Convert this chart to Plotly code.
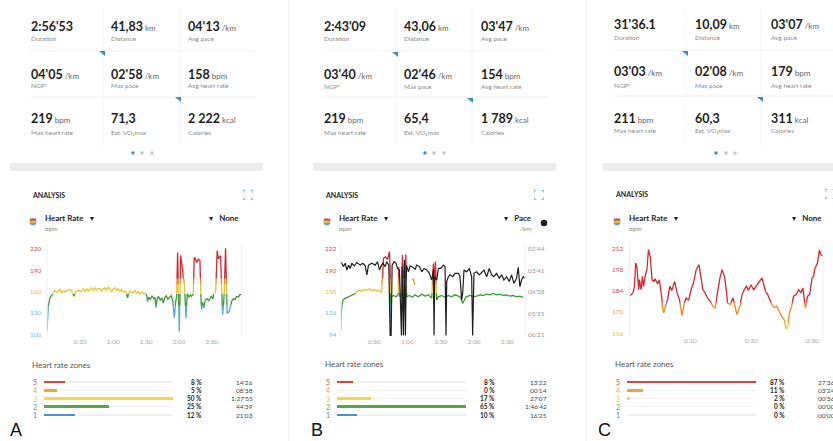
import plotly.graph_objects as go

W, H = 833, 441
FONT = "Lato, 'Open Sans', sans-serif"


def X(p):
    return p / W


def Y(p):
    return 1 - p / H


# ------------------------------------------------------------------ data
stat_labels = ["Duration", "Distance", "Avg pace", "NGP*", "Max pace", "Avg heart rate",
               "Max heart rate", "Est. VO₂max", "Calories"]
stat_units = ["", "km", "/km", "/km", "/km", "bpm", "bpm", "", "kcal"]
stats_A = ["2:56'53", "41,83", "04'13", "04'05", "02'58", "158", "219", "71,3", "2 222"]
stats_B = ["2:43'09", "43,06", "03'47", "03'40", "02'46", "154", "219", "65,4", "1 789"]
stats_C = ["31'36.1", "10,09", "03'07", "03'03", "02'08", "179", "211", "60,3", "311"]

zones = [5, 4, 3, 2, 1]
zone_pct_A = [8, 5, 50, 25, 12]
zone_time_A = ["14'26", "08'38", "1:27'55", "44'39", "21'03"]
zone_pct_B = [8, 0, 17, 65, 10]
zone_time_B = ["13'22", "00'14", "27'07", "1:46'42", "16'25"]
zone_pct_C = [87, 11, 2, 0, 0]
zone_time_C = ["27'36", "03'24", "00'36", "00'00", "00'00"]

hr_ticks_A = [100, 130, 160, 190, 220]
hr_ticks_B = [94, 126, 158, 190, 222]
hr_ticks_C = [156, 170, 184, 198, 212]
pace_ticks_B = [164, 221, 278, 335, 391]
pace_ticklabels_B = ["02'44", "03'41", "04'38", "05'35", "06'31"]
time_ticks_AB = [30, 60, 90, 120, 150]
time_ticklabels_AB = ["0:30", "1:00", "1:30", "2:00", "2:30"]
time_ticks_C = [10, 20, 30]
time_ticklabels_C = ["0:10", "0:20", "0:30"]

# heart rate A (minutes, bpm)
t_A = [0, 0.8, 1.2, 2.7, 5.2, 7.3, 8.8, 10.3, 11.8, 13.3, 14.8, 16.4, 17.9, 19.7, 21.5, 23.2,
       24.5, 25.8, 27, 28.7, 30, 31.5, 33.3, 34.7, 36.1, 37.6, 39.1, 40.6, 42.1, 43.6, 45,
       46.7, 48.2, 49.8, 51.2, 52.7, 54.2, 55.8, 57.3, 58.8, 60.3, 61.8, 63.3, 64.8, 66.4,
       67.9, 69.4, 70.9, 72.2, 73.3, 74.4, 75.5, 77, 78.5, 80, 81.5, 83, 84.5, 86, 87.5, 89,
       90.6, 91.5, 92.5, 94, 95.5, 97, 98.1, 99.1, 100.2, 101.5, 103, 104.5, 105.8, 107,
       108.5, 110, 111.5, 113, 114.5, 115.8, 117, 117.9, 118.8, 119.3, 119.7, 120.3, 121,
       121.5, 123.3, 124.5, 125.5, 126.4, 127.6, 129, 130.5, 131.5, 133, 133.9, 135, 136,
       137.6, 138.5, 139.1, 140, 140.6, 141.5, 142.7, 144, 145.5, 147, 148.2, 149.5, 151,
       152.7, 153.5, 154.8, 155.8, 156.7, 157.9, 159.1, 159.7, 160.5, 161.2, 162.4, 163.3,
       163.9, 165, 165.7, 167, 167.9, 169.5, 171, 172.4, 174, 175.5, 176.5]
hr_A = [104, 125, 139, 151, 155.7, 161.4, 159, 160.5, 163, 158.1, 161, 159.5, 161.4, 163,
        162.9, 158, 153.3, 159, 160.5, 162, 159.5, 161.4, 163.5, 160, 163.8, 161, 162.9, 165,
        161.5, 165.2, 162, 164.5, 163.8, 160.5, 164, 165.2, 162, 166, 162.9, 160, 164, 165.2,
        162, 163.8, 160.5, 162.9, 159, 160.5, 158, 151, 158, 160.5, 158, 159, 161.5, 157.5,
        160, 156.5, 159, 157, 158, 155, 146, 152, 149, 154, 150, 152, 137, 150, 153, 148,
        151, 143.8, 151, 154, 149, 152, 154, 146, 122.3, 145, 153.3, 215.2, 160, 148.6,
        103.3, 150, 211, 191.4, 177.1, 153.3, 122.3, 158.1, 152, 155, 153.3, 156, 208.1, 206,
        201, 205.7, 204, 203.3, 153.3, 134.3, 145, 136.7, 148, 150, 147, 151, 153, 149, 155,
        162, 217.6, 206, 208.1, 210.5, 153.3, 127.1, 140, 158.1, 221, 148.6, 129.5, 130,
        131.9, 140, 146.2, 150, 148.6, 153, 152, 155.7, 156]

# heart rate B (minutes, bpm)
t_B = [0, 0.6, 1.8, 3.9, 6.9, 9.9, 12.9, 14.4, 16.5, 18.9, 21, 23.4, 25.8, 27.9, 30, 32.4,
       34.8, 36.6, 37.5, 38.4, 40.2, 42, 43.8, 44.4, 45, 45.6, 47.4, 49.8, 51.6, 52.2, 53.1,
       54.6, 55.5, 56.4, 57.3, 57.9, 58.5, 59.4, 61.8, 64.2, 66.9, 69.9, 72.9, 75.9, 78.9,
       81.9, 83.4, 84.3, 85.2, 86.4, 87.9, 90.9, 93.9, 96.9, 99.9, 102.9, 105.9, 108, 109.8,
       111, 112.8, 116.4, 119.4, 122.4, 125.4, 128.4, 131.4, 134.4, 137.4, 140.4, 143.4,
       146.4, 149.4, 152.4, 155.4, 158.4, 161.4, 164.4]
hr_B = [100, 130, 145, 148, 150, 152, 155, 158, 160, 158.5, 161, 160, 162, 159, 161, 158.5,
        160, 156, 175, 208, 210, 206, 218, 190, 110, 150, 152, 150, 153, 195, 150, 152, 213,
        150, 200, 125, 214, 150, 152, 149, 153, 150, 154, 151, 153, 148, 200, 170, 203, 145,
        150, 152, 149, 152, 150, 153, 151, 149, 140, 145, 150, 152, 150, 151, 153, 152, 154,
        153, 155, 153, 154, 152, 153, 151, 152, 150, 151, 149]

# pace B (minutes, seconds per km)
t_pace_B = [0, 2.4, 3.9, 5.4, 6.9, 8.4, 9.9, 12, 14.4, 17.4, 19.8, 21.9, 23.4, 24.9, 27.9,
            30.9, 33, 34.8, 36, 37.8, 39.9, 41.4, 43.2, 44.4, 45.3, 46.2, 48, 49.8, 51, 52.8,
            54.6, 55.2, 56.4, 57.3, 58.2, 59.1, 60.9, 62.4, 64.8, 66.9, 68.4, 70.8, 72.9, 75,
            77.4, 79.8, 81.9, 83.4, 84, 84.6, 86.4, 87.9, 90, 92.4, 93.9, 94.8, 95.4, 96.9,
            98.4, 100.8, 102.9, 105.9, 107.4, 108.9, 109.8, 111, 113.4, 115.8, 117.9, 118.8,
            120, 122.4, 124.8, 126.9, 129, 131.4, 133.8, 135.9, 138, 140.4, 142.8, 144.9, 147,
            149.4, 151.8, 153.9, 156, 158.4, 159.9, 161.4, 162.9, 164.4, 165.9]
pace_B = [198, 211, 202, 220, 207, 216, 202, 209, 200, 207, 202, 209, 233, 207, 202, 207,
          198, 220, 211, 202, 211, 198, 207, 395, 395, 207, 198, 202, 216, 220, 395, 211, 395,
          193, 395, 207, 225, 209, 213, 218, 207, 211, 225, 216, 220, 229, 247, 220, 395, 238,
          247, 216, 216, 207, 211, 395, 251, 238, 233, 238, 229, 229, 238, 300, 282, 220, 225,
          216, 238, 395, 229, 225, 233, 227, 220, 238, 216, 233, 238, 229, 242, 233, 247, 238,
          251, 233, 256, 242, 213, 265, 247, 238, 242]

# heart rate C (minutes, bpm)
t_C = [0.1, 0.55, 0.8, 1.0, 1.2, 1.5, 1.6, 1.9, 2.1, 2.3, 2.6, 2.85, 3.1, 3.4, 3.7, 3.95, 4.2,
       4.6, 4.9, 5.3, 5.6, 5.9, 6.25, 6.6, 6.95, 7.4, 7.8, 8.2, 8.6, 9.0, 9.3, 9.7, 10.1, 10.5,
       10.95, 11.4, 11.7, 12.05, 12.4, 12.8, 13.25, 13.7, 14.1, 14.45, 14.8, 15.2, 15.6, 15.9,
       16.1, 16.55, 17.0, 17.4, 17.65, 18.1, 18.5, 18.85, 19.2, 19.55, 19.95, 20.4, 20.8,
       21.2, 21.75, 22.0, 22.35, 22.7, 23.0, 23.4, 23.8, 24.2, 24.55, 25.0, 25.4, 25.75, 26.0,
       26.3, 26.7, 26.95, 27.4, 27.8, 28.15, 28.5, 28.9, 29.25, 29.6, 30.0, 30.25, 30.5, 30.9,
       31.2, 31.45, 31.8]
hr_C = [180.6, 182.4, 186.7, 202.1, 199.5, 184.5, 191.1, 184.5, 193.3, 186.7, 194.4, 197.7,
        210.9, 206.1, 191.1, 190.0, 191.6, 188.5, 191.1, 175.8, 169.2, 173.6, 178.0, 186.7,
        184.1, 190.0, 182.4, 178.0, 167.4, 175.8, 179.1, 177.5, 184.5, 188.9, 197.7, 201.0,
        193.3, 184.5, 182.4, 179.1, 176.9, 173.6, 172.5, 182.4, 191.1, 197.7, 193.3, 184.5,
        175.8, 174.7, 179.1, 172.5, 168.1, 173.6, 181.3, 184.5, 186.7, 184.1, 187.8, 184.5,
        186.7, 188.9, 192.2, 188.9, 183.5, 181.3, 178.0, 174.7, 172.5, 173.6, 170.3, 167.0,
        164.8, 158.6, 160.4, 169.2, 174.7, 180.2, 181.3, 184.5, 182.4, 185.6, 172.5, 180.2,
        181.3, 192.2, 193.3, 198.8, 202.1, 210.5, 207.6, 207.0]

# ------------------------------------------------------------------ styles
C_RED, C_ORA, C_YEL, C_GRN, C_BLU = "#d8262c", "#ef8a1f", "#f2c02a", "#3f9a38", "#5aa7de"
zone_colors = ["#e6403b", "#f2a23c", "#f6d54c", "#55a845", "#4b8fd8"]
zone_label_colors = ["#e6403b", "#f2a23c", "#f0c63c", "#55a845", "#4b8fd8"]

layout = dict(width=W, height=H, margin=dict(l=0, r=0, t=0, b=0, pad=0),
              paper_bgcolor="white", plot_bgcolor="rgba(0,0,0,0)", showlegend=False,
              font=dict(family=FONT, color="#222"), bargap=0, barmode="overlay")
annotations, shapes, traces = [], [], []
counters = {"x": 0, "y": 0}


def new_axis(letter, **kw):
    counters[letter] += 1
    n = counters[letter]
    suf = "" if n == 1 else str(n)
    layout[f"{letter}axis{suf}"] = kw
    return letter + suf, f"{letter}axis{suf}"


def txt(x, y, s, size=8, color="#222", xanchor="left", yanchor="middle", family=FONT):
    annotations.append(dict(x=X(x), y=Y(y), xref="paper", yref="paper", text=s, showarrow=False,
                            xanchor=xanchor, yanchor=yanchor, borderpad=0,
                            font=dict(size=size, color=color, family=family)))


def line(x0, y0, x1, y1, color="#eeeeee", width=1):
    shapes.append(dict(type="line", xref="paper", yref="paper", x0=X(x0), y0=Y(y0), x1=X(x1),
                       y1=Y(y1), line=dict(color=color, width=width)))


def rect(x0, y0, x1, y1, color):
    shapes.append(dict(type="rect", xref="paper", yref="paper", x0=X(x0), y0=Y(y0), x1=X(x1),
                       y1=Y(y1), fillcolor=color, line=dict(width=0)))


def circle(cx, cy, r, color):
    shapes.append(dict(type="circle", xref="paper", yref="paper", x0=X(cx - r), y0=Y(cy + r),
                       x1=X(cx + r), y1=Y(cy - r), fillcolor=color, line=dict(width=0)))


def path(pts, color, fill=True, width=1):
    d = "M " + " L ".join(f"{X(a)},{Y(b)}" for a, b in pts)
    if fill:
        d += " Z"
    shapes.append(dict(type="path", xref="paper", yref="paper", path=d,
                       fillcolor=color if fill else None,
                       line=dict(width=0 if fill else width, color=color)))


# ------------------------------------------------------------------ panel pieces
def stats_grid(values, cols, rows, lrows, hl, vl, tris, dots):
    for i, v in enumerate(values):
        c, r = i % 3, i // 3
        u = stat_units[i]
        s = f"<b>{v}</b>" + (f"<span style='font-size:8px;color:#666'>&nbsp;{u}</span>" if u else "")
        txt(cols[c], rows[r], s, size=12.5, color="#1e1e1e")
        txt(cols[c], lrows[r], stat_labels[i], size=6.5, color="#8a8a8a")
    for (a, b, y) in hl:
        line(a, y, b, y, "#f0f0f0")
    for (x, a, b) in vl:
        line(x, a, x, b, "#f3f3f3")
    for (x, y) in tris:
        path([(x - 5, y), (x + 1, y), (x + 1, y + 5)], "#3a8dc8")
    for k, (x, y) in enumerate(dots):
        circle(x, y, 1.8, "#4a90d0" if k == 0 else "#c8c8c8")


def analysis_header(ax, ay, ex, ey, ix, iy, hx, hy, right_x, right_text, right_unit=None, dot=None):
    txt(ax, ay, "<b>ANALYSIS</b>", size=7, color="#222")
    s = 4.5
    c = "#8ab8dc"
    for sx, sy in [(-1, -1), (1, -1), (-1, 1), (1, 1)]:
        path([(ex + sx * s, ey + sy * (s - 2)), (ex + sx * s, ey + sy * s),
              (ex + sx * (s - 2), ey + sy * s)], c, fill=False, width=1)
    # multi-colour heart-rate icon
    circle(ix, iy, 3.4, "#5aa7de")
    rect(ix - 3.2, iy - 3.4, ix + 3.2, iy - 1.2, "#e04a3a")
    rect(ix - 3.4, iy - 1.2, ix + 3.4, iy + 0.8, "#f2c02a")
    txt(hx, hy, "<b>Heart Rate</b>&nbsp;&nbsp;&nbsp;▾", size=8, color="#222")
    txt(hx, hy + 10, "bpm", size=6.5, color="#8a8a8a")
    txt(right_x, hy, f"▾&nbsp;&nbsp;&nbsp;<b>{right_text}</b>", size=8, color="#222",
        xanchor="right")
    if right_unit:
        txt(right_x, hy + 10, right_unit, size=6.5, color="#8a8a8a", xanchor="right")
    if dot:
        circle(dot[0], dot[1], 3.3, "#1e1e1e")


def hr_chart(t, bpm, ticks, tick_cols, bands, x_dom, t_rng, tick_px, dom_px, lab_x,
             xt, xtl):
    v_bot, v_top = ticks[0], ticks[-1]
    p_top, p_bot = tick_px
    k = (v_top - v_bot) / (p_bot - p_top)

    def v2p(v):
        return p_bot - (v - v_bot) / k

    d_top, d_bot = dom_px
    r_hi = v_bot + (p_bot - d_top) * k
    r_lo = v_bot - (d_bot - p_bot) * k
    xid, xkey = new_axis("x", domain=[X(x_dom[0]), X(x_dom[1])], range=list(t_rng),
                         showgrid=False, zeroline=False, showline=False, ticks="",
                         tickvals=xt, ticktext=xtl,
                         tickfont=dict(size=6.5, color="#a8a8a8", family=FONT),
                         fixedrange=True)
    first = True
    for lo, hi, col in bands:
        lo, hi = max(lo, r_lo), min(hi, r_hi)
        if hi <= lo:
            continue
        yid, ykey = new_axis("y", domain=[Y(v2p(lo)), Y(v2p(hi))], range=[lo, hi],
                             visible=False, anchor=xid, fixedrange=True)
        if first:
            layout[xkey]["anchor"] = yid
            first = False
        traces.append(go.Scatter(x=t, y=bpm, xaxis=xid, yaxis=yid, mode="lines",
                                 line=dict(color=col, width=1.3), hoverinfo="skip"))
    for v, c in zip(ticks, tick_cols):
        txt(lab_x, v2p(v), str(v), size=6.5, color=c, xanchor="right")
    line(x_dom[0], d_top, x_dom[0], d_bot, "#efefef")
    line(x_dom[1], d_top, x_dom[1], d_bot, "#efefef")
    return xid, (d_top, d_bot)


def zone_block(pcts, times, title_xy, lab_x, track, row5, step, pct_x, time_x, time_anchor):
    txt(title_xy[0], title_xy[1], "Heart rate zones", size=8, color="#555")
    maxp = max(pcts)
    xid, xkey = new_axis("x", domain=[X(track[0]), X(track[1])], range=[0, maxp],
                         visible=False, fixedrange=True)
    top = row5 - step / 2
    bot = row5 + 4 * step + step / 2
    yid, ykey = new_axis("y", domain=[Y(bot), Y(top)], range=[0.5, 5.5], visible=False,
                         anchor=xid, fixedrange=True)
    layout[xkey]["anchor"] = yid
    traces.append(go.Bar(x=[maxp] * 5, y=zones, orientation="h", width=0.14,
                         marker=dict(color="#efefef", line=dict(width=0)),
                         xaxis=xid, yaxis=yid, hoverinfo="skip"))
    traces.append(go.Bar(x=pcts, y=zones, orientation="h", width=0.34,
                         marker=dict(color=zone_colors, line=dict(width=0)),
                         xaxis=xid, yaxis=yid, hoverinfo="skip"))
    for i, z in enumerate(zones):
        yy = row5 + i * step
        txt(lab_x, yy, str(z), size=7, color=zone_label_colors[i])
        txt(pct_x, yy, f"<b>{pcts[i]} %</b>", size=6.5, color="#222", xanchor="right")
        txt(time_x, yy, times[i], size=6.5, color="#444", xanchor=time_anchor)


# ------------------------------------------------------------------ build panels
line(289, 0, 289, 441, "#e9e9e9")
line(586, 0, 586, 441, "#e9e9e9")
rect(10, 163, 263, 171, "#ececec")
rect(313, 163, 556, 171, "#ececec")
rect(603, 163, 833, 171, "#ececec")

LETTER_FONT = "Liberation Sans, Arial, sans-serif"

# Panel A
stats_grid(stats_A, [30, 110, 187], [27, 74, 119], [39, 85, 132],
           [(30, 255, 51), (30, 255, 97)], [(103, 8, 145), (180, 8, 145)],
           [(104, 51), (180, 97)], [(133, 153), (142, 153), (152, 153)])
analysis_header(31, 195, 248, 195, 33, 222, 44, 218, 240, "None")
bands_A = [(-1e9, 140, C_BLU), (140, 157, C_GRN), (157, 170, C_YEL), (170, 178, C_ORA),
           (178, 1e9, C_RED)]
hr_chart(t_A, hr_A, hr_ticks_A, ["#7ab6e4", "#7ab6e4", "#efb73a", "#d94a4a", "#d94a4a"],
         bands_A, (47, 241.6), (0, 177), (249, 334), (244, 336), 43,
         time_ticks_AB, time_ticklabels_AB)
zone_block(zone_pct_A, zone_time_A, (31, 365), 32, (44, 173), 382, 8.25, 203, 254, "right")
txt(9, 441, "A", size=18, color="#111", yanchor="bottom", family=LETTER_FONT)

# Panel B
stats_grid(stats_B, [323, 403, 480], [27, 74, 119], [39, 86, 132],
           [(323, 548, 51), (323, 548, 97)], [(396, 8, 145), (472, 8, 145)],
           [(397, 52), (472, 98)], [(425, 153), (434, 153), (444, 153)])
analysis_header(324, 195, 539, 195, 327, 222, 338, 218, 533, "Pace", "/km", (544, 223))
bands_B = [(-1e9, 138, C_BLU), (138, 156, C_GRN), (156, 168, C_YEL), (168, 178, C_ORA),
           (178, 1e9, C_RED)]
xid_B, (dtop_B, dbot_B) = hr_chart(t_B, hr_B, hr_ticks_B,
                                   ["#7ab6e4", "#7ab6e4", "#efb73a", "#d94a4a", "#d94a4a"],
                                   bands_B, (340.9, 525), (0, 166), (249, 334), (244, 336), 338,
                                   time_ticks_AB, time_ticklabels_AB)
# pace axis (reversed, seconds per km: fastest at the top)
ks = (pace_ticks_B[-1] - pace_ticks_B[0]) / (334 - 249)
p_hi = pace_ticks_B[-1] + (dbot_B - 334) * ks
p_lo = pace_ticks_B[0] - (249 - dtop_B) * ks
yid_p, _ = new_axis("y", domain=[Y(dbot_B), Y(dtop_B)], range=[p_hi, p_lo], visible=False,
                    anchor=xid_B, fixedrange=True)
traces.append(go.Scatter(x=t_pace_B, y=pace_B, xaxis=xid_B, yaxis=yid_p, mode="lines",
                         line=dict(color="#1f1f1f", width=1.2), hoverinfo="skip"))
for v, lab in zip(pace_ticks_B, pace_ticklabels_B):
    txt(527, 249 + (v - pace_ticks_B[0]) / ks, lab, size=6.5, color="#9a9a9a")
zone_block(zone_pct_B, zone_time_B, (324, 364), 325, (337, 466), 382, 8.25, 496, 548, "right")
txt(310, 441, "B", size=18, color="#111", yanchor="bottom", family=LETTER_FONT)

# Panel C
stats_grid(stats_C, [613, 694, 770], [25, 72, 118], [38, 85, 131],
           [(613, 833, 50), (613, 833, 96)], [(686, 8, 145), (761, 8, 145)],
           [(687, 51), (762, 97)], [(716, 153), (726, 153), (735, 153)])
analysis_header(614, 194, 830, 194, 617, 222, 628, 218, 823, "None")
bands_C = [(-1e9, 163, C_YEL), (163, 176, C_ORA), (176, 1e9, C_RED)]
hr_chart(t_C, hr_C, hr_ticks_C, ["#efc040", "#ef9a3a", "#d94a4a", "#d94a4a", "#d94a4a"],
         bands_C, (629.6, 823), (0, 31.8), (248, 333), (243, 335), 625,
         time_ticks_C, time_ticklabels_C)
zone_block(zone_pct_C, zone_time_C, (614, 364), 615, (627, 756), 382, 8.25, 786, 817, "left")
txt(597, 441, "C", size=18, color="#111", yanchor="bottom", family=LETTER_FONT)

layout["annotations"] = annotations
layout["shapes"] = shapes
fig = go.Figure(data=traces, layout=layout)
fig.write_html("out.html", config={"displayModeBar": False, "staticPlot": True},
               post_script="document.body.style.margin='0';document.body.style.overflow='hidden';")
